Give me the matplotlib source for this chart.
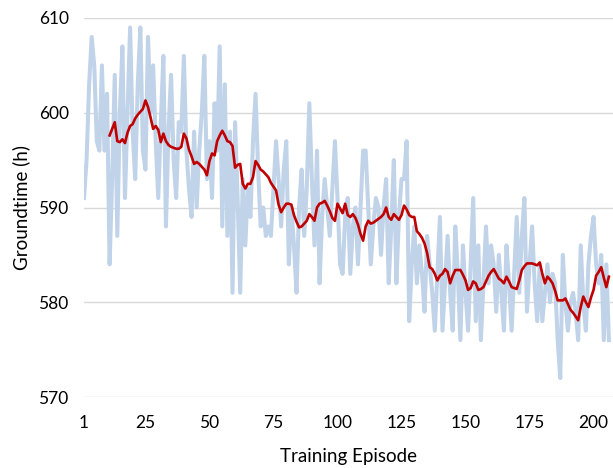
import matplotlib
matplotlib.use("Agg")
import matplotlib.pyplot as plt

# Raw groundtime per training episode (light blue)
groundtime = [
    591, 595, 603, 608, 605, 597, 596, 605, 596, 602,
    584, 593, 604, 587, 600, 607, 591, 600, 609, 598,
    593, 603, 609, 596, 594, 608, 600, 605, 597, 591,
    599, 606, 588, 598, 604, 595, 591, 599, 598, 606,
    596, 592, 589, 598, 590, 596, 600, 606, 593, 597,
    591, 601, 596, 607, 588, 603, 587, 598, 581, 599,
    591, 581, 593, 586, 592, 589, 597, 602, 594, 588,
    590, 587, 588, 587, 592, 597, 593, 588, 594, 597,
    584, 590, 586, 581, 590, 594, 587, 592, 601, 593,
    586, 596, 582, 589, 593, 590, 587, 592, 597, 591,
    584, 583, 589, 591, 583, 588, 590, 584, 590, 596,
    596, 590, 584, 588, 591, 590, 585, 590, 593, 582,
    588, 595, 582, 589, 593, 593, 597, 578, 584, 588,
    582, 586, 583, 579, 587, 584, 581, 577, 583, 589,
    577, 582, 587, 581, 577, 588, 583, 576, 586, 581,
    577, 584, 591, 578, 586, 576, 582, 588, 582, 586,
    584, 579, 585, 581, 577, 586, 582, 577, 583, 589,
    581, 587, 591, 579, 584, 588, 582, 578, 584, 578,
    581, 584, 580, 583, 582, 576, 572, 585, 580, 577,
    580, 581, 579, 576, 586, 580, 577, 584, 587, 589,
    584, 582, 585, 576, 584, 576,
]

# Moving-average trend (dark red), starting at episode 11
trend_start = 11
trend = [
    597.6, 598.3, 599.0, 597.0, 596.9, 597.2, 596.8, 597.9, 598.6, 598.8,
    599.4, 599.8, 600.1, 600.4, 601.3, 600.6, 599.5, 598.3, 598.6, 598.2,
    596.9, 597.8, 597.0, 596.6, 596.4, 596.3, 596.2, 596.2, 596.4, 597.8,
    597.3, 596.1, 595.4, 594.6, 594.8, 594.6, 594.3, 594.0, 593.4, 594.9,
    595.7, 595.5, 597.0, 597.6, 598.1, 597.6, 597.0, 596.9, 596.5, 594.2,
    594.5, 594.6, 592.5, 592.0, 592.5, 592.5, 593.2, 594.9, 594.5, 594.0,
    593.8, 593.5, 593.2, 592.6, 592.2, 591.8, 590.3, 589.5, 590.0, 590.4,
    590.4, 590.3, 589.2, 588.5, 587.9, 588.0, 588.3, 588.6, 589.3, 589.0,
    588.6, 590.0, 590.4, 590.5, 590.7, 590.2, 589.6, 588.9, 588.6, 590.4,
    589.9, 589.4, 590.4, 589.2, 589.0, 589.3, 588.9, 588.2, 587.2, 586.5,
    588.0, 588.6, 588.3, 588.4, 588.6, 588.8, 589.0, 589.3, 590.0, 589.0,
    588.7, 589.3, 589.0, 588.7, 589.2, 590.2, 589.8, 589.2, 589.0, 589.0,
    587.5, 587.2, 586.8, 586.2, 585.2, 583.7, 583.5, 583.0, 582.3, 582.8,
    583.0, 583.5, 583.2, 582.0, 582.8, 583.4, 583.4, 583.4, 582.9, 582.3,
    581.3, 581.5, 582.2, 582.0, 581.3, 581.4, 581.6, 582.2, 582.8, 583.2,
    583.5, 583.0, 582.5, 582.3, 582.0, 582.7, 582.2, 581.6, 581.5, 581.4,
    582.3, 583.4, 583.8, 584.1, 584.1, 584.1, 584.0, 583.9, 584.2, 583.0,
    582.0, 582.7, 582.4, 582.0, 581.2, 580.2, 580.2, 580.2, 580.4, 579.8,
    579.2, 578.9, 578.5, 578.1, 579.5, 580.6, 580.0, 579.5, 580.5, 581.3,
    582.8, 583.2, 583.7, 582.6, 581.6, 582.7,
]

x_ticks = [1, 25, 50, 75, 100, 125, 150, 175, 200]
y_ticks = [570, 580, 590, 600, 610]
x_label = "Training Episode"
y_label = "Groundtime (h)"

episodes = list(range(1, len(groundtime) + 1))
trend_x = list(range(trend_start, trend_start + len(trend)))

plt.rcParams['font.family'] = ['Lato', 'DejaVu Sans']

fig = plt.figure(figsize=(6.13, 4.68), dpi=100)
ax = fig.add_axes([84 / 613, 1 - 397 / 468, 1 - 84 / 613, (397 - 18) / 468])

ax.plot(episodes, groundtime, color='#c0d3e9', linewidth=2.9, zorder=2,
        solid_joinstyle='round')
ax.plot(trend_x, trend, color='#c00000', linewidth=1.9, zorder=3,
        solid_joinstyle='round')

ax.set_xlim(1, 207.6)
ax.set_ylim(570, 610)
ax.set_xticks(x_ticks)
ax.set_yticks(y_ticks)
ax.grid(axis='y', color='#d9d9d9', linewidth=1.0, zorder=0)
ax.set_axisbelow(True)
for s in ax.spines.values():
    s.set_visible(False)
ax.tick_params(length=0, labelsize=12.5, colors='#000000')
ax.tick_params(axis='x', pad=13)
ax.tick_params(axis='y', pad=11)
ax.set_xlabel(x_label, fontsize=13.5, labelpad=12)
ax.set_ylabel(y_label, fontsize=13.5, labelpad=6)

fig.savefig("out.png", dpi=100)
